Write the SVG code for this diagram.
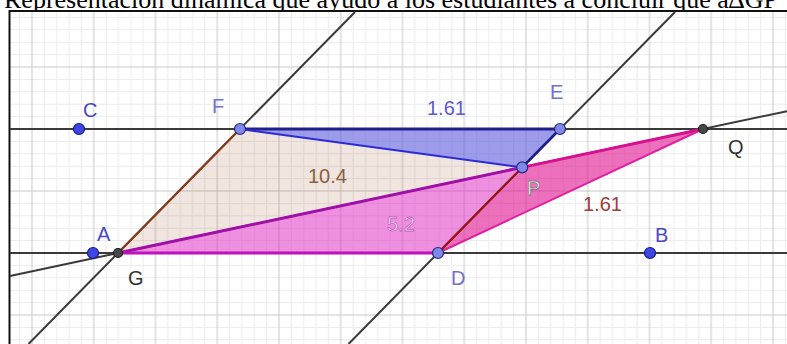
<svg xmlns="http://www.w3.org/2000/svg" width="787" height="344" viewBox="0 0 787 344">
<defs>
<style>
.ln{stroke:#3a3a3a;stroke-width:2;fill:none}
.lbl{font-family:"Liberation Sans",Arial,sans-serif;font-size:20px}
.pt{fill:#7f87e8;stroke:#2a2a80;stroke-width:1.2}
.ptd{fill:#3d47e6;stroke:#1a1a80;stroke-width:1.2}
.ptk{fill:#474747;stroke:#1e1e1e;stroke-width:1.2}
.lav{fill:#7272cc}
.blu{fill:#4848c4}
.gry{fill:#333}
</style>
<pattern id="grid" patternUnits="userSpaceOnUse" x="1.125" y="36" width="61.75" height="62">
<rect width="61.75" height="62" fill="#fff"/>
<path d="M6.175 0V62M18.525 0V62M43.225 0V62M55.575 0V62M0 6.2H61.75M0 18.6H61.75M0 43.4H61.75M0 55.8H61.75" stroke="#ececec" stroke-width="1"/>
<path d="M30.875 0V62M0 31H61.75" stroke="#c9c9c9" stroke-width="1"/>
</pattern>
</defs>
<rect width="787" height="344" fill="#fff"/>
<text x="4" y="8" font-family="'Liberation Serif','Times New Roman',serif" font-size="26" fill="#000">Representación dinámica que ayudó a los estudiantes a concluir que a∆GP</text>
<rect x="10" y="12" width="777" height="332" fill="url(#grid)"/>
<path d="M9.5 344V11H787" stroke="#111" stroke-width="2" fill="none"/>

<g id="areas">
<polygon points="240,129 118,253 522.2,167.4" fill="#a0522d" fill-opacity="0.15"/>
<polygon points="240,129 560,129 522.2,167.4" fill="#5a5adc" fill-opacity="0.6"/>
<polygon points="118,253 438,253 522.2,167.4" fill="#e020c0" fill-opacity="0.5"/>
<polygon points="438,253 522.2,167.4 703,129" fill="#e01090" fill-opacity="0.6"/>
</g>

<g id="connectors">
<line class="ln" x1="10" y1="129" x2="787" y2="129"/>
<line class="ln" x1="10" y1="253" x2="787" y2="253"/>
<line class="ln" x1="28.5" y1="344" x2="355" y2="12"/>
<line class="ln" x1="348.5" y1="344" x2="675" y2="12"/>
<line class="ln" x1="10" y1="275.9" x2="787" y2="111.2"/>
<line x1="240" y1="129" x2="118" y2="253" stroke="#8b3b1b" stroke-width="2"/>
<line x1="240" y1="129" x2="560" y2="129" stroke="#20208c" stroke-width="3"/>
<line x1="240" y1="129" x2="522.2" y2="167.4" stroke="#2a2ad8" stroke-width="2"/>
<line x1="560" y1="129" x2="522.2" y2="167.4" stroke="#1c1c8c" stroke-width="2.5"/>
<line x1="118" y1="253" x2="522.2" y2="167.4" stroke="#a010a8" stroke-width="3"/>
<line x1="118" y1="253" x2="438" y2="253" stroke="#c010c0" stroke-width="3"/>
<line x1="522.2" y1="167.4" x2="703" y2="129" stroke="#d81090" stroke-width="3"/>
<line x1="438" y1="253" x2="703" y2="129" stroke="#e020a0" stroke-width="2"/>
<line x1="438" y1="253" x2="522.2" y2="167.4" stroke="#a01010" stroke-width="2"/>
</g>

<g id="values" class="lbl">
<text x="427" y="115" fill="#5a5ad0">1.61</text>
<text x="308" y="183" fill="#8a6040">10.4</text>
<text x="387" y="231" fill="#fff" stroke="#c060c0" stroke-width="0.8">5.2</text>
<text x="583" y="211" fill="#a03c3c">1.61</text>
</g>

<g id="C"><circle class="ptd" cx="79" cy="129" r="5.5"/><text class="lbl blu" x="83" y="117">C</text></g>
<g id="F"><circle class="pt" cx="240" cy="129" r="5.5"/><text class="lbl lav" x="212" y="113">F</text></g>
<g id="E"><circle class="pt" cx="560" cy="129" r="5.5"/><text class="lbl lav" x="550" y="99">E</text></g>
<g id="Q"><circle class="ptk" cx="703" cy="129" r="4.5"/><text class="lbl gry" x="728" y="154">Q</text></g>
<g id="P"><circle class="pt" cx="522.2" cy="167.4" r="5.5"/><text class="lbl" x="527" y="195" fill="#fff" stroke="#808080" stroke-width="0.8">P</text></g>
<g id="A"><circle class="ptd" cx="93" cy="253" r="5.5"/><text class="lbl blu" x="97" y="241">A</text></g>
<g id="G"><circle class="ptk" cx="118" cy="253" r="4.5"/><text class="lbl gry" x="128" y="285">G</text></g>
<g id="D"><circle class="pt" cx="438" cy="253" r="5.5"/><text class="lbl lav" x="451" y="285">D</text></g>
<g id="B"><circle class="ptd" cx="650" cy="253" r="5.5"/><text class="lbl blu" x="655" y="242">B</text></g>
</svg>
